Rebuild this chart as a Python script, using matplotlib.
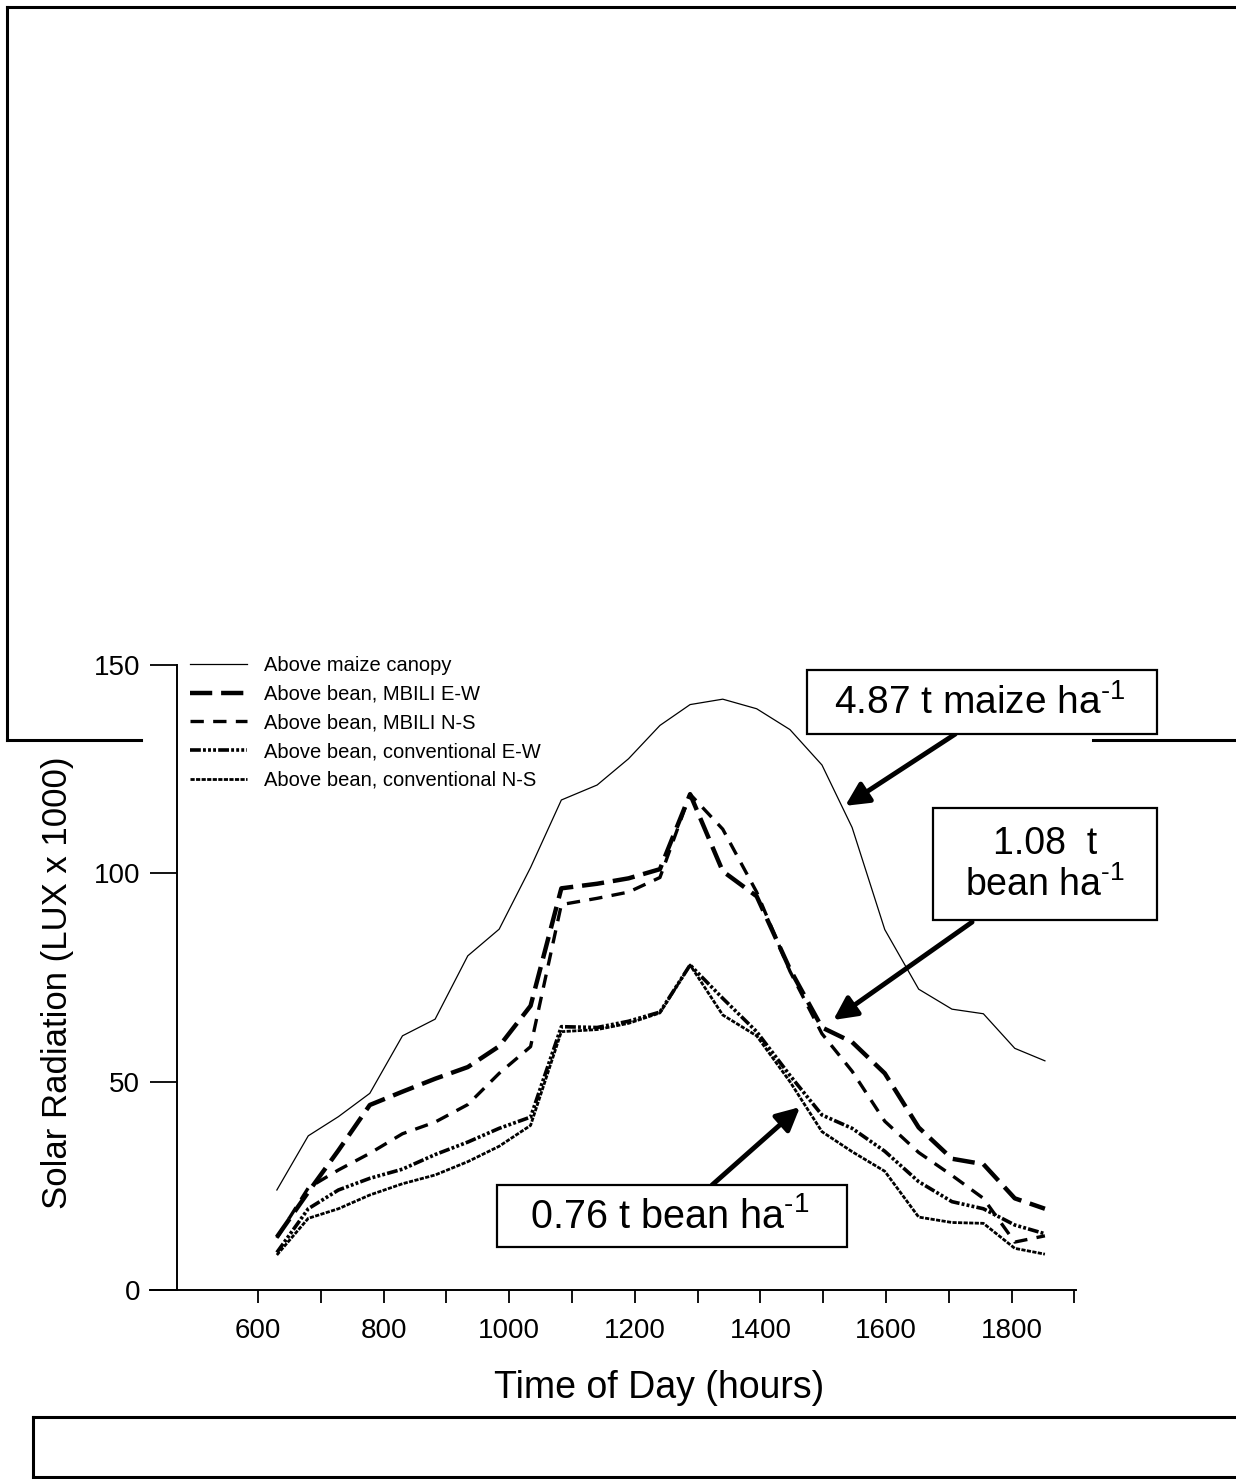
import matplotlib
matplotlib.use('Agg')
import matplotlib.pyplot as plt
from matplotlib.lines import Line2D
from matplotlib.patches import Rectangle

plt.rcParams['font.family'] = ['Liberation Sans', 'DejaVu Sans']
plt.rcParams['mathtext.fontset'] = 'custom'
plt.rcParams['mathtext.rm'] = 'Liberation Sans'
plt.rcParams['mathtext.default'] = 'regular'

# time of day (hhmm as plotted) and radiation readings (LUX x 1000)
time_hr = [630, 680, 728, 778, 830, 882, 934, 984, 1034, 1083, 1140, 1190, 1240,
           1288, 1340, 1394, 1447, 1498, 1546, 1598, 1652, 1705, 1755, 1805, 1853]
maize = [24, 37, 41.6, 47.2, 61, 65, 80.2, 86.6, 101.4, 117.6, 121.2, 127.5, 135.5,
         140.5, 141.8, 139.5, 134.5, 126, 111, 86.5, 72.2, 67.4, 66.3, 58, 55]
mbili_ew = [12.7, 23.5, 33.5, 44.4, 47.6, 50.7, 53.5, 58.5, 68.2, 96.4, 97.5, 98.8, 101,
            119, 100.5, 94.5, 77, 63, 59.5, 52, 39, 31.5, 30.2, 22, 19.5]
mbili_ns = [12.5, 24.5, 28.8, 32.8, 37.5, 40.3, 44.5, 52, 58.4, 92.5, 94, 95.5, 99,
            119, 110.6, 95.5, 76.5, 61.5, 52.5, 40.5, 33, 27.5, 22, 11.5, 13]
conv_ew = [9, 19.5, 24, 26.8, 29, 32.5, 35.5, 38.8, 41.5, 63.2, 63, 64.5, 66.7,
           78, 70, 62, 51.5, 42, 38.8, 33.3, 26, 21.2, 19.5, 15.6, 13.5]
conv_ns = [8.4, 17.2, 19.5, 22.8, 25.5, 27.6, 30.8, 34.5, 39.5, 62, 62.5, 64, 66.5,
           78, 66, 61, 50, 38, 33.2, 28.5, 17.5, 16.2, 16, 10, 8.6]

series_labels = ['Above maize canopy', 'Above bean, MBILI E-W', 'Above bean, MBILI N-S',
                 'Above bean, conventional E-W', 'Above bean, conventional N-S']
y_ticks = [0, 50, 100, 150]
x_labelled = [600, 800, 1000, 1200, 1400, 1600, 1800]
x_unlabelled = [700, 900, 1100, 1300, 1500, 1700, 1900]

W, H = 1236, 1479
fig = plt.figure(figsize=(W / 100, H / 100), dpi=100)


def fx(px):
    return px / W


def fy(py):
    return 1 - py / H


ax = fig.add_axes([fx(150), fy(1290), fx(1076) - fx(150), fy(665) - fy(1290)])
ax.set_xlim(428, 1902.5)
ax.set_ylim(0, 150)

ax.plot(time_hr, maize, color='black', lw=0.9, label=series_labels[0])
ax.plot(time_hr, mbili_ew, color='black', lw=3.2, dashes=(5, 2), label=series_labels[1])
ax.plot(time_hr, mbili_ns, color='black', lw=2.4, dashes=(4, 2.8), label=series_labels[2])
ax.plot(time_hr, conv_ew, color='black', lw=2.6,
        dashes=(3, 0.6, 0.8, 0.6, 0.8, 0.6, 0.8, 0.6), label=series_labels[3])
ax.plot(time_hr, conv_ns, color='black', lw=2.0, dashes=(1.5, 0.5), label=series_labels[4])

# axes look
for s in ['top', 'right']:
    ax.spines[s].set_visible(False)
ax.spines['left'].set_position(('data', 471))
ax.spines['left'].set_linewidth(1.4)
ax.spines['bottom'].set_linewidth(1.4)

ax.set_yticks(y_ticks)
ax.tick_params(axis='y', direction='out', length=19.4, width=1.3, pad=7, labelsize=20)
ax.set_xticks(x_labelled)
ax.set_xticks(x_unlabelled, minor=True)
ax.tick_params(axis='x', which='both', direction='out', length=9.4, width=1.3, pad=11,
               labelsize=20)

ax.set_xlabel('Time of Day (hours)', fontsize=27, va='center')
ax.xaxis.set_label_coords((659 - 150) / 926, -(1388 - 1290) / 625)
ax.set_ylabel('Solar Radiation (LUX x 1000)', fontsize=25, va='center')
ax.yaxis.set_label_coords((58 - 150) / 926, (1290 - 983) / 625)

ax.legend(loc='upper left', bbox_to_anchor=(fx(190), fy(656)), bbox_transform=fig.transFigure,
          frameon=False, fontsize=14.5, borderpad=0, borderaxespad=0,
          handlelength=2.85, handletextpad=0.8, labelspacing=0.48)

# arrows pointing from the yield boxes to the curves
arrow = dict(arrowstyle='-|>,head_length=0.7,head_width=0.35', lw=3.5, color='black',
             shrinkA=0, shrinkB=0, mutation_scale=20)
ax.annotate('', xy=(1535, 116.2), xytext=(1710, 133.4), arrowprops=arrow, annotation_clip=False)
ax.annotate('', xy=(1516, 64.8), xytext=(1737, 88.3), arrowprops=arrow, annotation_clip=False)
ax.annotate('', xy=(1463, 43.9), xytext=(1323, 25.2), arrowprops=arrow, annotation_clip=False)


def box(x0, y0, x1, y1):
    fig.add_artist(Rectangle((fx(x0), fy(y1)), fx(x1) - fx(x0), fy(y0) - fy(y1),
                             transform=fig.transFigure, facecolor='white',
                             edgecolor='black', lw=1.6))


sup = r'$^{\text{-}1}$'
box(807, 670, 1157, 734)
fig.text(fx(980), fy(703), '4.87 t maize ha' + sup, fontsize=28, ha='center', va='center')
box(933, 808, 1157, 920)
fig.text(fx(1045), fy(865), '1.08  t\nbean ha' + sup, fontsize=27, ha='center', va='center',
         multialignment='center', linespacing=1.15)
box(497, 1185, 847, 1247)
fig.text(fx(670), fy(1217), '0.76 t bean ha' + sup, fontsize=28.5, ha='center', va='center')

# page frame remnants around the figure
frame = [((7, 1240), (7, 7)), ((7, 7), (7, 740)), ((7, 141), (740, 740)),
         ((1093, 1240), (740, 740)),
         ((33, 1240), (1417, 1417)), ((33, 33), (1417, 1477)), ((33, 1240), (1477, 1477))]
for xs, ys in frame:
    fig.add_artist(Line2D([fx(v) for v in xs], [fy(v) for v in ys], color='black', lw=2.2,
                          transform=fig.transFigure))

fig.savefig('out.png', dpi=100, facecolor='white')
